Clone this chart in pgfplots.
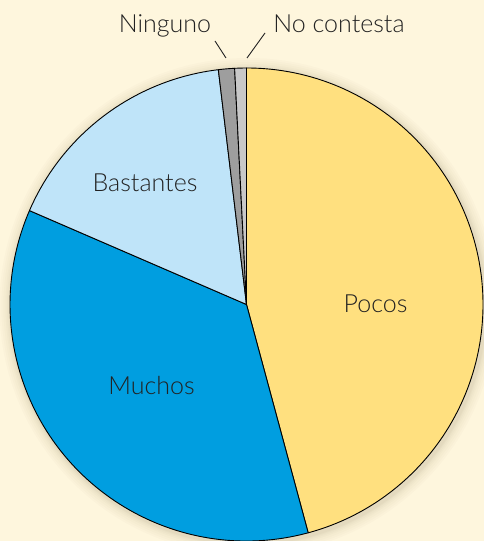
\documentclass[border=0pt]{standalone}
\usepackage{pgfplots}
\pgfplotsset{compat=1.18}
\usepackage{pgfplotstable}
\usepackage{fontspec}
\setmainfont{Lato Light}
\definecolor{bgc}{HTML}{FEF6DD}
\definecolor{cpocos}{HTML}{FFE07F}
\definecolor{cmuchos}{HTML}{009EE0}
\definecolor{cbast}{HTML}{BFE4F9}
\definecolor{cning}{HTML}{9E9E9E}
\definecolor{cnoc}{HTML}{C8C8C8}
\definecolor{txt}{HTML}{222222}
\definecolor{shd}{HTML}{6B5A2A}
\pgfplotstableread{
label value
Pocos 45.8
Muchos 35.7
Bastantes 16.6
Ninguno 1.1
NoContesta 0.8
}\piedata
\def\R{236.5}
\newcommand{\sector}[3]{%
  \filldraw[fill=#1, draw=black, line width=0.9pt, line join=round]
    (axis cs:246.5,236.5) -- ++(#2:\R pt) arc[start angle=#2, end angle=#3, radius=\R pt] -- cycle;}
\begin{document}%
\begin{tikzpicture}
\pgfplotstablegetelem{0}{value}\of\piedata \pgfmathsetmacro{\va}{\pgfplotsretval*3.6}
\pgfplotstablegetelem{1}{value}\of\piedata \pgfmathsetmacro{\vb}{\pgfplotsretval*3.6}
\pgfplotstablegetelem{2}{value}\of\piedata \pgfmathsetmacro{\vc}{\pgfplotsretval*3.6}
\pgfplotstablegetelem{3}{value}\of\piedata \pgfmathsetmacro{\vd}{\pgfplotsretval*3.6}
\pgfplotstablegetelem{4}{value}\of\piedata \pgfmathsetmacro{\ve}{\pgfplotsretval*3.6}
\pgfmathsetmacro{\aA}{90}
\pgfmathsetmacro{\aB}{\aA-\va}
\pgfmathsetmacro{\aC}{\aB-\vb}
\pgfmathsetmacro{\aD}{\aC-\vc}
\pgfmathsetmacro{\aE}{\aD-\vd}
\pgfmathsetmacro{\aF}{\aE-\ve}
\begin{axis}[at={(0,0)}, anchor=south west, x=1pt, y=1pt, xmin=0, xmax=484, ymin=0, ymax=541,
  scale only axis, hide axis, clip=true]
\fill[bgc] (axis cs:0,0) rectangle (axis cs:484,541);
% soft shadow
\fill[shd, fill opacity=0.02] (axis cs:248,234.5) circle[radius=248.5pt];
\fill[shd, fill opacity=0.02] (axis cs:248,234.5) circle[radius=246.5pt];
\fill[shd, fill opacity=0.02] (axis cs:248,234.5) circle[radius=244.5pt];
\fill[shd, fill opacity=0.025] (axis cs:248,234.5) circle[radius=242.5pt];
\fill[shd, fill opacity=0.025] (axis cs:248,234.5) circle[radius=241pt];
\fill[shd, fill opacity=0.03] (axis cs:248,234.5) circle[radius=239.5pt];
\fill[shd, fill opacity=0.03] (axis cs:248,234.5) circle[radius=238.5pt];
\sector{cpocos}{\aA}{\aB}
\sector{cmuchos}{\aB}{\aC}
\sector{cbast}{\aC}{\aD}
\sector{cning}{\aD}{\aE}
\sector{cnoc}{\aE}{\aF}
\draw[txt, line width=0.9pt] (axis cs:215,500) -- (axis cs:226,483);
\draw[txt, line width=0.9pt] (axis cs:265,508) -- (axis cs:247,483);
\node[anchor=base, text=txt, font=\fontsize{25}{30}\selectfont] at (axis cs:165,508) {Ninguno};
\node[anchor=base, text=txt, font=\fontsize{25}{30}\selectfont] at (axis cs:339,508) {No contesta};
\node[anchor=base, text=txt, font=\fontsize{25}{30}\selectfont] at (axis cs:145,349) {Bastantes};
\node[anchor=base, text=txt, font=\fontsize{25}{30}\selectfont] at (axis cs:375.5,228) {Pocos};
\node[anchor=base, text=txt, font=\fontsize{25}{30}\selectfont] at (axis cs:151.5,146) {Muchos};
\end{axis}
\pgfresetboundingbox
\useasboundingbox (0,0) rectangle (484pt,541pt);
\end{tikzpicture}%
\end{document}
